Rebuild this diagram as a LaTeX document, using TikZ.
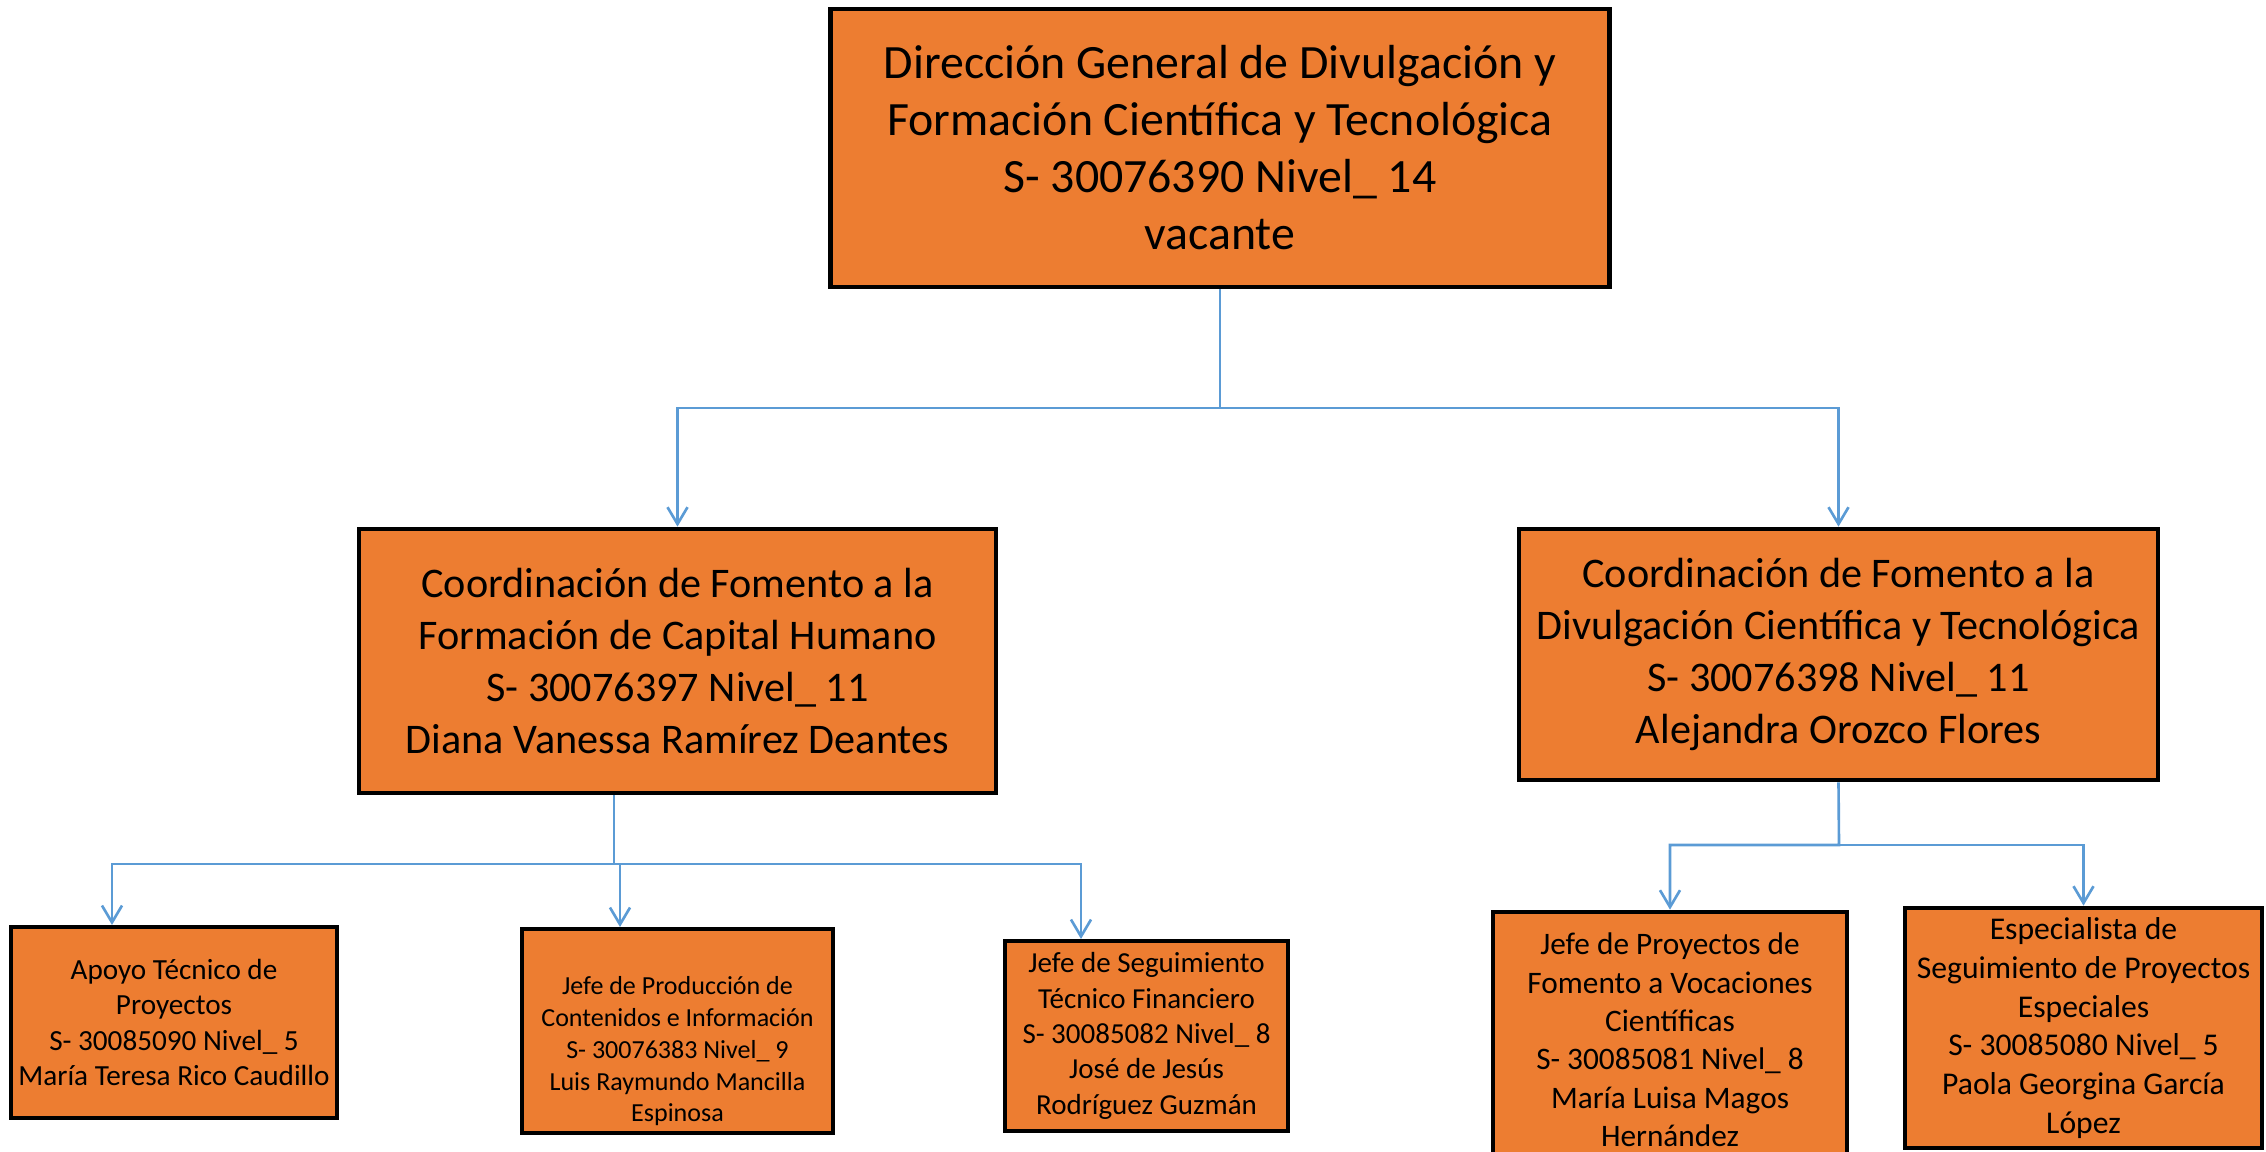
\documentclass[tikz,border=0pt]{standalone}
\usepackage{fontspec}
\setmainfont{Carlito}
\usetikzlibrary{arrows.meta,positioning}

\definecolor{boxorange}{HTML}{ED7D31}
\definecolor{linkblue}{HTML}{5B9BD5}

\begin{document}
\begin{tikzpicture}[
		x=0.01cm,
		y=-0.01cm,
		>={Straight Barb[length=4.8pt,width=5.7pt]},
		unit/.style={
			draw=black,
			line width=1.3pt,
			fill=boxorange,
			align=center,
			inner sep=0pt
		},
		head/.style={
			unit,
			minimum width=7.78cm,
			minimum height=2.78cm,
			font=\fontsize{13.6}{16.2}\selectfont
		},
		coord/.style={
			unit,
			font=\fontsize{12}{14.7}\selectfont
		},
		post/.style={
			unit
		},
		link/.style={
			draw=linkblue,
			line width=0.75pt
		},
		feed/.style={
			link,
			->
		}
		]
		\useasboundingbox (0,0) rectangle (2266,1152);
		% top
		\node[head] (dir) at (1220,148) {Dirección General de Divulgación y\\Formación Científica y Tecnológica\\S- 30076390 Nivel\_ 14\\vacante};
		% coordinations
		\node[coord,minimum width=6.37cm,minimum height=2.64cm] (cl) at (677.5,661) {Coordinación de Fomento a la\\Formación de Capital Humano\\S- 30076397 Nivel\_ 11\\Diana Vanessa Ramírez Deantes};
		\node[coord,minimum width=6.39cm,minimum height=2.51cm] (cr) at (1838.5,654.5) {Coordinación de Fomento a la\\Divulgación Científica y Tecnológica\\S- 30076398 Nivel\_ 11\\Alejandra Orozco Flores};
		% posts
		\node[post,minimum width=3.26cm,minimum height=1.91cm,font=\fontsize{8.3}{10.1}\selectfont] (b1) at (174,1022.5) {Apoyo Técnico de\\Proyectos\\ S- 30085090 Nivel\_ 5\\María Teresa Rico Caudillo};
		\node[post,minimum width=3.11cm,minimum height=2.04cm,font=\fontsize{7.4}{9.05}\selectfont] (b2) at (677.5,1031) {\rule{0pt}{16.7pt}Jefe de Producción de\\Contenidos e Información\\S- 30076383 Nivel\_ 9\\Luis Raymundo Mancilla\\Espinosa};
		\node[post,minimum width=2.83cm,minimum height=1.9cm,font=\fontsize{8.25}{10.05}\selectfont] (b3) at (1146.5,1036) {Jefe de Seguimiento\\Técnico Financiero\\S- 30085082 Nivel\_ 8\\José de Jesús\\Rodríguez Guzmán};
		\node[post,minimum width=3.54cm,minimum height=2.56cm,font=\fontsize{8.9}{10.9}\selectfont] (b4) at (1670,1040) {Jefe de Proyectos de\\Fomento a Vocaciones\\Científicas\\S- 30085081 Nivel\_ 8\\María Luisa Magos\\Hernández};
		\node[post,minimum width=3.57cm,minimum height=2.4cm,font=\fontsize{9}{11}\selectfont] (b5) at (2083.5,1028) {Especialista de\\Seguimiento de Proyectos\\Especiales\\ S- 30085080 Nivel\_ 5\\Paola Georgina García\\López};
		% connectors
		\coordinate (tophub) at (1220,408);
		\draw[feed] (dir.south) -- (tophub) -| (cl.north);
		\draw[feed] (tophub) -| (cr.north);
		\coordinate (lhub) at (614,864);
		\coordinate (b1in) at (112,925);
		\coordinate (b2in) at (620,927);
		\coordinate (b3in) at (1081,939);
		\draw[link] (cl.south -| lhub) -- (lhub);
		\draw[feed] (lhub) -| (b1in);
		\draw[feed] (lhub) -| (b2in);
		\draw[feed] (lhub) -| (b3in);
		\coordinate (rhub) at (1839,845);
		\draw[feed] (cr.south) -- (rhub) -| (b4.north);
		\draw[feed] (rhub) -| (b5.north);
		\end{tikzpicture}
\end{document}
